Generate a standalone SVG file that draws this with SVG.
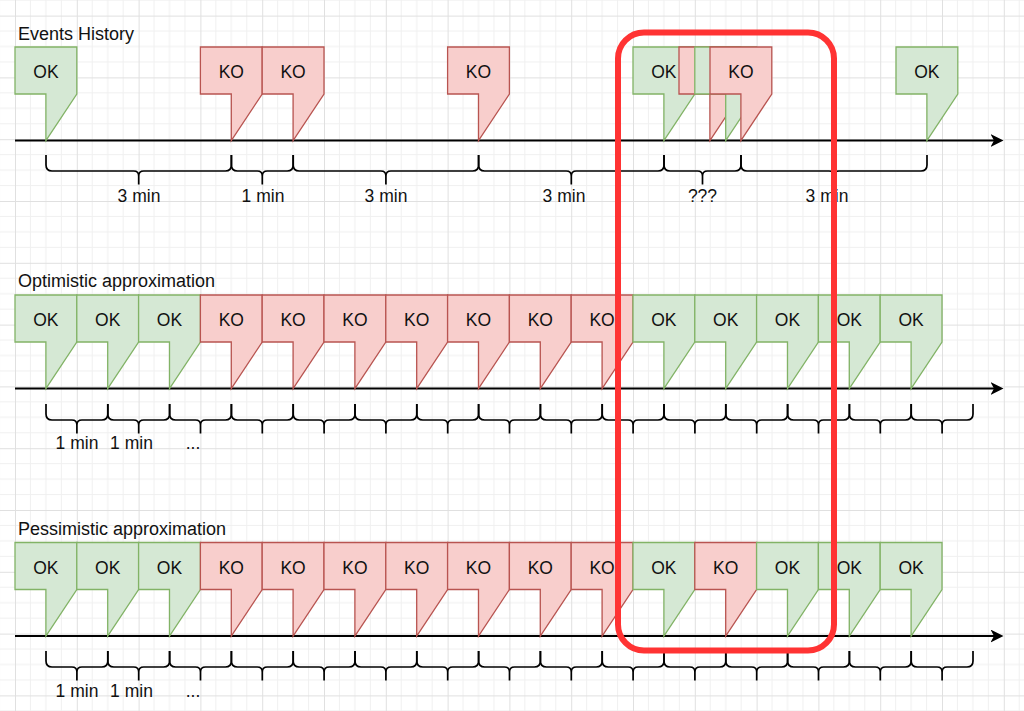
<svg xmlns="http://www.w3.org/2000/svg" xmlns:xlink="http://www.w3.org/1999/xlink" width="1024" height="711" viewBox="0 0 1024 711">
<style>
.ok{fill:#d5e8d4;stroke:#82b366;stroke-width:1.3}
.ko{fill:#f8cecc;stroke:#b85450;stroke-width:1.3}
.t{font-family:"Liberation Sans",Arial,sans-serif;font-size:17.5px;fill:#111;text-anchor:middle}
.title{font-family:"Liberation Sans",Arial,sans-serif;font-size:18px;fill:#111}
.axis{stroke:#000;stroke-width:2;fill:none}
.brace{stroke:#000;stroke-width:1.7;fill:none}
.hl{fill:none;stroke:#ff3333;stroke-width:6}
</style>
<defs>
<pattern id="grid" patternUnits="userSpaceOnUse" x="15" y="15.6" width="61.8" height="61.8">
<path d="M15.45,0V61.8M30.9,0V61.8M46.35,0V61.8M0,15.45H61.8M0,30.9H61.8M0,46.35H61.8" stroke="#f0f0f0" stroke-width="1" fill="none"/>
<path d="M0.5,0V61.8M0,0.5H61.8" stroke="#e0e0e0" stroke-width="1" fill="none"/>
</pattern>
<marker id="arr" markerUnits="userSpaceOnUse" markerWidth="14" markerHeight="14" refX="3.5" refY="6.5" orient="auto">
<path d="M0,0 L13,6.5 L0,13 L3.5,6.5 Z" fill="#000"/>
</marker>
<path id="co" d="M0,0 H61.8 V47 L30.9,93.5 V47 H0 Z"/>
<path id="br" d="M0,0 v10 q0,6 6,6 h19.9 q5,0 5,5 q0,-5 5,-5 h19.9 q6,0 6,-6 v-10 M30.9,21 V29.5"/>
</defs>
<rect width="1024" height="711" fill="#ffffff"/>
<rect width="1024" height="711" fill="url(#grid)"/>

<text class="title" x="18" y="39.5">Events History</text>
<text class="title" x="18" y="286.5">Optimistic approximation</text>
<text class="title" x="18" y="535">Pessimistic approximation</text>

<g id="connectors">
<line class="axis" x1="15" y1="140.5" x2="994" y2="140.5" marker-end="url(#arr)"/>
<line class="axis" x1="15" y1="388.5" x2="994" y2="388.5" marker-end="url(#arr)"/>
<line class="axis" x1="15" y1="636" x2="994" y2="636" marker-end="url(#arr)"/>
<g id="braces-events" class="brace">
<path d="M46,155 v10 q0,6 6,6 h81.7 q5,0 5,5 q0,-5 5,-5 h81.7 q6,0 6,-6 v-10 M138.7,176 V184.5"/>
<use xlink:href="#br" href="#br" x="231.4" y="155"/>
<path d="M293.2,155 v10 q0,6 6,6 h81.7 q5,0 5,5 q0,-5 5,-5 h81.7 q6,0 6,-6 v-10 M385.9,176 V184.5"/>
<path d="M478.6,155 v10 q0,6 6,6 h81.7 q5,0 5,5 q0,-5 5,-5 h81.7 q6,0 6,-6 v-10 M571.3,176 V184.5"/>
<path d="M664,155 v10 q0,6 6,6 h27.5 q5,0 5,5 q0,-5 5,-5 h27.5 q6,0 6,-6 v-10 M702.5,176 V184.5"/>
<path d="M741,155 v10 q0,6 6,6 h82 q5,0 5,5 q0,-5 5,-5 h82 q6,0 6,-6 v-10 M834,176 V184.5"/>
</g>
<g id="braces-optimistic" class="brace">
<use xlink:href="#br" href="#br" x="46" y="404"/>
<use xlink:href="#br" href="#br" x="107.8" y="404"/>
<use xlink:href="#br" href="#br" x="169.6" y="404"/>
<use xlink:href="#br" href="#br" x="231.4" y="404"/>
<use xlink:href="#br" href="#br" x="293.2" y="404"/>
<use xlink:href="#br" href="#br" x="355" y="404"/>
<use xlink:href="#br" href="#br" x="416.8" y="404"/>
<use xlink:href="#br" href="#br" x="478.6" y="404"/>
<use xlink:href="#br" href="#br" x="540.4" y="404"/>
<use xlink:href="#br" href="#br" x="602.2" y="404"/>
<use xlink:href="#br" href="#br" x="664" y="404"/>
<use xlink:href="#br" href="#br" x="725.8" y="404"/>
<use xlink:href="#br" href="#br" x="787.6" y="404"/>
<use xlink:href="#br" href="#br" x="849.4" y="404"/>
<use xlink:href="#br" href="#br" x="911.2" y="404"/>
</g>
<g id="braces-pessimistic" class="brace">
<use xlink:href="#br" href="#br" x="46" y="651"/>
<use xlink:href="#br" href="#br" x="107.8" y="651"/>
<use xlink:href="#br" href="#br" x="169.6" y="651"/>
<use xlink:href="#br" href="#br" x="231.4" y="651"/>
<use xlink:href="#br" href="#br" x="293.2" y="651"/>
<use xlink:href="#br" href="#br" x="355" y="651"/>
<use xlink:href="#br" href="#br" x="416.8" y="651"/>
<use xlink:href="#br" href="#br" x="478.6" y="651"/>
<use xlink:href="#br" href="#br" x="540.4" y="651"/>
<use xlink:href="#br" href="#br" x="602.2" y="651"/>
<use xlink:href="#br" href="#br" x="664" y="651"/>
<use xlink:href="#br" href="#br" x="725.8" y="651"/>
<use xlink:href="#br" href="#br" x="787.6" y="651"/>
<use xlink:href="#br" href="#br" x="849.4" y="651"/>
<use xlink:href="#br" href="#br" x="911.2" y="651"/>
</g>
</g>

<g id="labels-events">
<text class="t" x="139" y="201.5">3 min</text>
<text class="t" x="263" y="201.5">1 min</text>
<text class="t" x="386" y="201.5">3 min</text>
<text class="t" x="564" y="201.5">3 min</text>
<text class="t" x="702.5" y="201.5">???</text>
<text class="t" x="827" y="201.5">3 min</text>
</g>
<g id="labels-optimistic">
<text class="t" x="77" y="448.5">1 min</text>
<text class="t" x="131.5" y="448.5">1 min</text>
<text class="t" x="193" y="448.5">...</text>
</g>
<g id="labels-pessimistic">
<text class="t" x="77" y="696.5">1 min</text>
<text class="t" x="131.5" y="696.5">1 min</text>
<text class="t" x="193" y="696.5">...</text>
</g>

<!-- Events History -->
<g id="ev1"><use href="#co" xlink:href="#co" class="ok" x="15" y="47"/><text class="t" x="46" y="78">OK</text></g>
<g id="ev2"><use href="#co" xlink:href="#co" class="ko" x="200.4" y="47"/><text class="t" x="231.3" y="78">KO</text></g>
<g id="ev3"><use href="#co" xlink:href="#co" class="ko" x="262.2" y="47"/><text class="t" x="293.1" y="78">KO</text></g>
<g id="ev4"><use href="#co" xlink:href="#co" class="ko" x="447.6" y="47"/><text class="t" x="478.5" y="78">KO</text></g>
<g id="ev5"><use href="#co" xlink:href="#co" class="ok" x="633" y="47"/><text class="t" x="663.9" y="78">OK</text></g>
<g id="ev6"><use href="#co" xlink:href="#co" class="ko" x="679" y="47"/></g>
<g id="ev7"><use href="#co" xlink:href="#co" class="ok" x="694.8" y="47"/></g>
<g id="ev8"><use href="#co" xlink:href="#co" class="ko" x="710" y="47"/><text class="t" x="740.9" y="78">KO</text></g>
<g id="ev9"><use href="#co" xlink:href="#co" class="ok" x="896" y="47"/><text class="t" x="926.9" y="78">OK</text></g>

<!-- Optimistic -->
<g id="op1"><use href="#co" xlink:href="#co" class="ok" x="15" y="295"/><text class="t" x="45.9" y="326">OK</text></g>
<g id="op2"><use href="#co" xlink:href="#co" class="ok" x="76.8" y="295"/><text class="t" x="107.7" y="326">OK</text></g>
<g id="op3"><use href="#co" xlink:href="#co" class="ok" x="138.6" y="295"/><text class="t" x="169.5" y="326">OK</text></g>
<g id="op4"><use href="#co" xlink:href="#co" class="ko" x="200.4" y="295"/><text class="t" x="231.3" y="326">KO</text></g>
<g id="op5"><use href="#co" xlink:href="#co" class="ko" x="262.2" y="295"/><text class="t" x="293.1" y="326">KO</text></g>
<g id="op6"><use href="#co" xlink:href="#co" class="ko" x="324" y="295"/><text class="t" x="354.9" y="326">KO</text></g>
<g id="op7"><use href="#co" xlink:href="#co" class="ko" x="385.8" y="295"/><text class="t" x="416.7" y="326">KO</text></g>
<g id="op8"><use href="#co" xlink:href="#co" class="ko" x="447.6" y="295"/><text class="t" x="478.5" y="326">KO</text></g>
<g id="op9"><use href="#co" xlink:href="#co" class="ko" x="509.4" y="295"/><text class="t" x="540.3" y="326">KO</text></g>
<g id="op10"><use href="#co" xlink:href="#co" class="ko" x="571.2" y="295"/><text class="t" x="602.1" y="326">KO</text></g>
<g id="op11"><use href="#co" xlink:href="#co" class="ok" x="633" y="295"/><text class="t" x="663.9" y="326">OK</text></g>
<g id="op12"><use href="#co" xlink:href="#co" class="ok" x="694.8" y="295"/><text class="t" x="725.7" y="326">OK</text></g>
<g id="op13"><use href="#co" xlink:href="#co" class="ok" x="756.6" y="295"/><text class="t" x="787.5" y="326">OK</text></g>
<g id="op14"><use href="#co" xlink:href="#co" class="ok" x="818.4" y="295"/><text class="t" x="849.3" y="326">OK</text></g>
<g id="op15"><use href="#co" xlink:href="#co" class="ok" x="880.2" y="295"/><text class="t" x="911.1" y="326">OK</text></g>

<!-- Pessimistic -->
<g id="pe1"><use href="#co" xlink:href="#co" class="ok" x="15" y="542.5"/><text class="t" x="45.9" y="573.5">OK</text></g>
<g id="pe2"><use href="#co" xlink:href="#co" class="ok" x="76.8" y="542.5"/><text class="t" x="107.7" y="573.5">OK</text></g>
<g id="pe3"><use href="#co" xlink:href="#co" class="ok" x="138.6" y="542.5"/><text class="t" x="169.5" y="573.5">OK</text></g>
<g id="pe4"><use href="#co" xlink:href="#co" class="ko" x="200.4" y="542.5"/><text class="t" x="231.3" y="573.5">KO</text></g>
<g id="pe5"><use href="#co" xlink:href="#co" class="ko" x="262.2" y="542.5"/><text class="t" x="293.1" y="573.5">KO</text></g>
<g id="pe6"><use href="#co" xlink:href="#co" class="ko" x="324" y="542.5"/><text class="t" x="354.9" y="573.5">KO</text></g>
<g id="pe7"><use href="#co" xlink:href="#co" class="ko" x="385.8" y="542.5"/><text class="t" x="416.7" y="573.5">KO</text></g>
<g id="pe8"><use href="#co" xlink:href="#co" class="ko" x="447.6" y="542.5"/><text class="t" x="478.5" y="573.5">KO</text></g>
<g id="pe9"><use href="#co" xlink:href="#co" class="ko" x="509.4" y="542.5"/><text class="t" x="540.3" y="573.5">KO</text></g>
<g id="pe10"><use href="#co" xlink:href="#co" class="ko" x="571.2" y="542.5"/><text class="t" x="602.1" y="573.5">KO</text></g>
<g id="pe11"><use href="#co" xlink:href="#co" class="ok" x="633" y="542.5"/><text class="t" x="663.9" y="573.5">OK</text></g>
<g id="pe12"><use href="#co" xlink:href="#co" class="ko" x="694.8" y="542.5"/><text class="t" x="725.7" y="573.5">KO</text></g>
<g id="pe13"><use href="#co" xlink:href="#co" class="ok" x="756.6" y="542.5"/><text class="t" x="787.5" y="573.5">OK</text></g>
<g id="pe14"><use href="#co" xlink:href="#co" class="ok" x="818.4" y="542.5"/><text class="t" x="849.3" y="573.5">OK</text></g>
<g id="pe15"><use href="#co" xlink:href="#co" class="ok" x="880.2" y="542.5"/><text class="t" x="911.1" y="573.5">OK</text></g>

<g id="highlight"><rect class="hl" x="618" y="32.5" width="216" height="618" rx="26" ry="26"/></g>
</svg>
